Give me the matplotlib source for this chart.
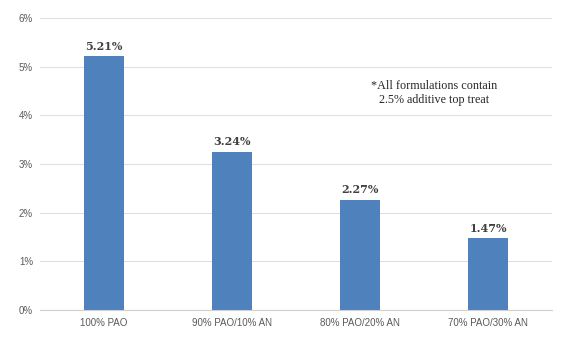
import numpy as np
import matplotlib.pyplot as plt

categories = ['100% PAO', '90% PAO/10% AN', '80% PAO/20% AN', '70% PAO/30% AN']
values = [5.21, 3.24, 2.27, 1.47]
yticks = [0, 1, 2, 3, 4, 5, 6]
note = '*All formulations contain\n2.5% additive top treat'

fig = plt.figure(figsize=(5.71, 3.38), dpi=100)
ax = fig.add_axes([40 / 571, 28 / 338, 512 / 571, 292 / 338])

x = np.arange(len(categories))
ax.bar(x, values, width=0.31, color='#4f81bd', zorder=2)

# value labels above each bar
for xi, v in zip(x, values):
    ax.text(xi, v + 0.1, '%.2f%%' % v, ha='center', va='bottom',
            family='DejaVu Serif', fontweight='bold', fontsize=8, color='#404040')

ax.text(2.58, 4.46, note, ha='center', va='center', family='Liberation Serif',
        fontsize=8.7, color='#262626', linespacing=1.15)

ax.set_xlim(-0.5, len(categories) - 0.5)
ax.set_ylim(0, 6)
ax.set_yticks(yticks)
ax.set_yticklabels(['%d%%' % t for t in yticks])
ax.set_xticks(x)
ax.set_xticklabels(categories)
ax.tick_params(axis='both', length=0, labelsize=7, labelcolor='#595959',
               labelfontfamily='Liberation Sans')
ax.tick_params(axis='y', pad=5)
ax.tick_params(axis='x', pad=6)

ax.grid(axis='y', color='#e0e0e0', linewidth=0.8, zorder=0)
for side in ['top', 'right', 'left']:
    ax.spines[side].set_visible(False)
ax.spines['bottom'].set_color('#d0d0d0')

fig.savefig('out.png', dpi=100, facecolor='white')
